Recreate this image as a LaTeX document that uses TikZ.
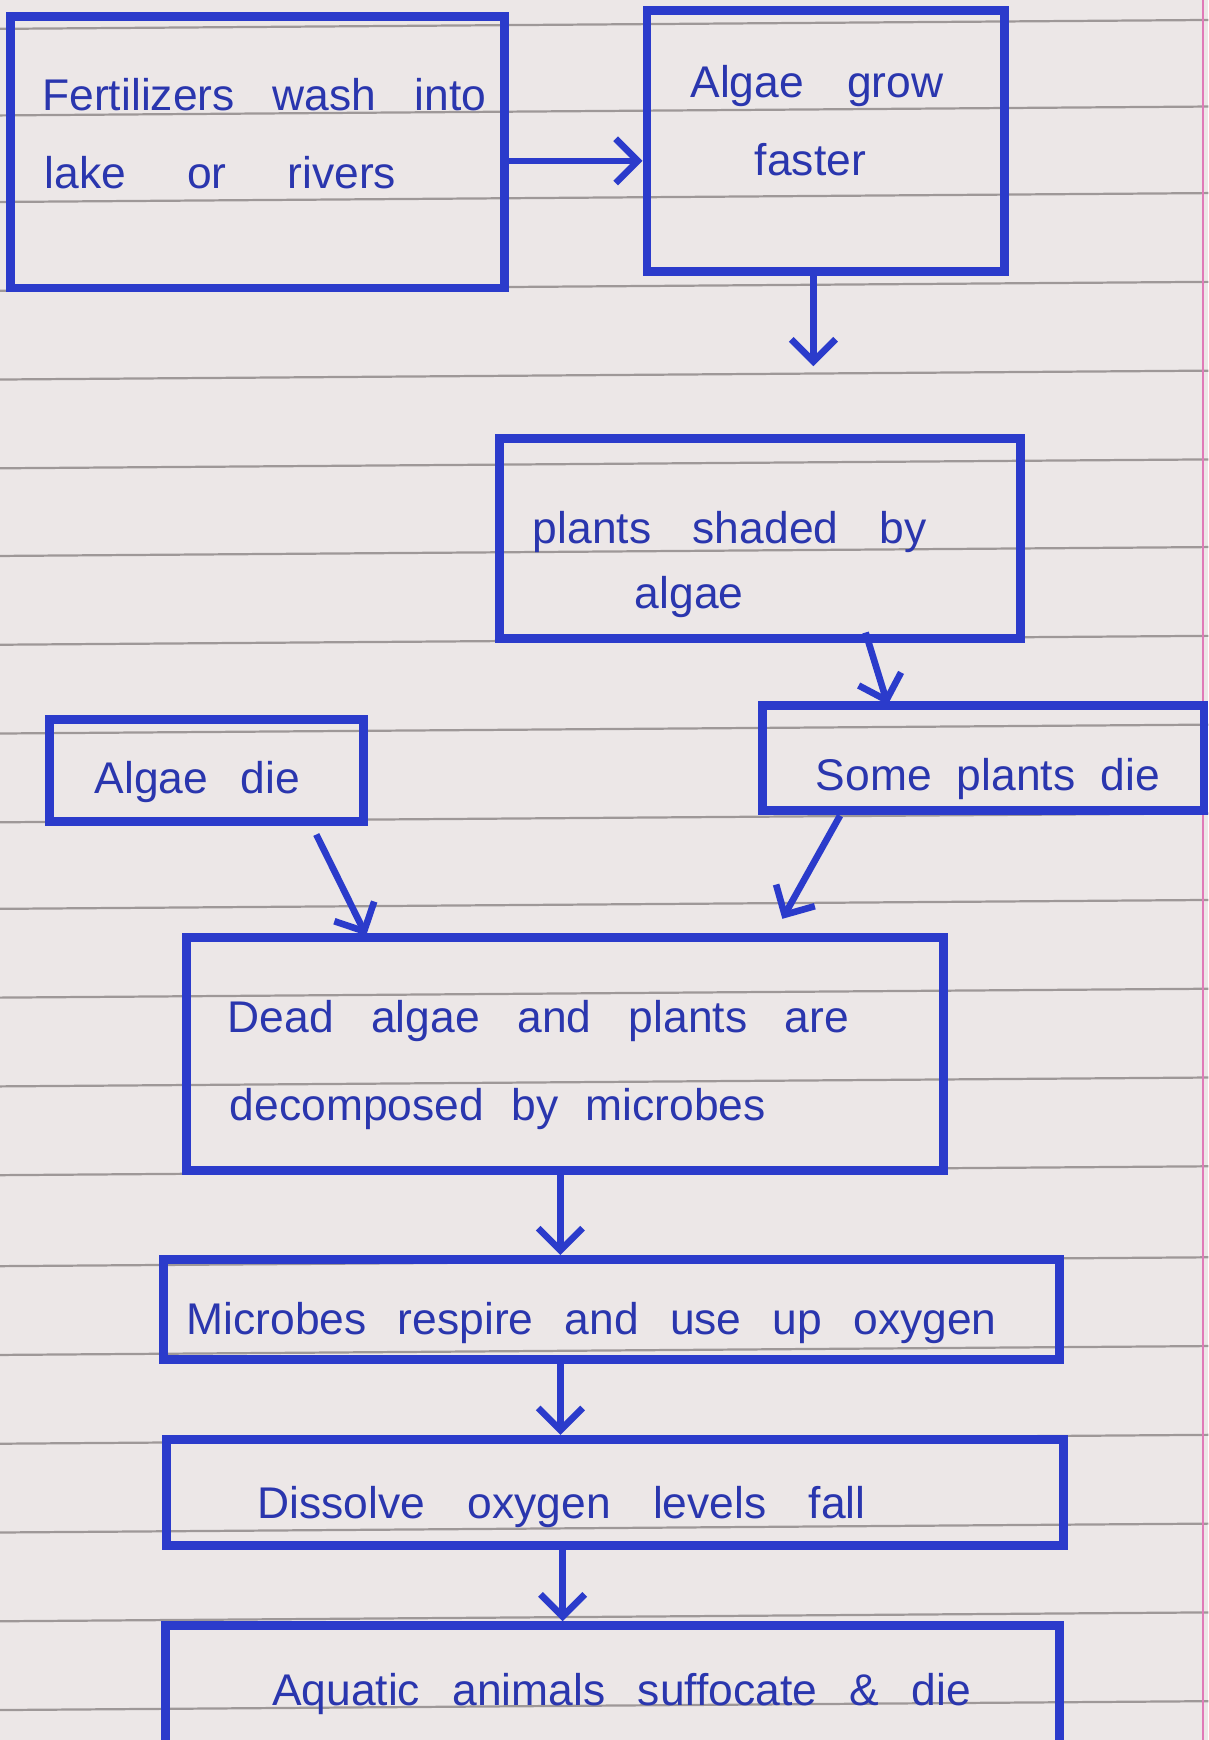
\documentclass[tikz,border=0pt]{standalone}
\usepackage{fontspec}
\setmainfont{Liberation Sans}
\usetikzlibrary{arrows.meta}
\definecolor{paper}{HTML}{ECE7E7}
\definecolor{ink}{HTML}{2B3BCB}
\definecolor{pen}{HTML}{2A36AE}
\definecolor{rulecol}{HTML}{9E9898}
\definecolor{margin}{HTML}{E07AB8}
\begin{document}
\begin{tikzpicture}[x=1pt,y=-1pt,
  box/.style={draw=ink,line width=8pt,inner sep=0pt},
  txt/.style={text=pen,font=\fontsize{40}{48}\selectfont,inner sep=0pt,anchor=base west},
  arr/.style={draw=ink,line width=6pt,-{Straight Barb[length=20pt,width=40pt,line width=6pt]}},
  paperline/.style={draw=rulecol,line width=2pt}]
% paper
\fill[paper] (0,0) rectangle (1089,1568);
\useasboundingbox (0,0) rectangle (1089,1568);
\foreach \y in {22,100,178,258,338,418,497,577,657,737,815,895,975,1055,1137,1217,1297,1377,1457,1537}
  \draw[paperline] (0,\y+4) -- (1089,\y-4);
\draw[margin,line width=2pt] (1084,0) -- (1084,1568);
% boxes
\node[box,minimum width=445pt,minimum height=245pt] (b1) at (232,137) {};
\node[box,minimum width=322pt,minimum height=235pt] (b2) at (744,127) {};
\node[box,minimum width=470pt,minimum height=180pt] (b3) at (685,485) {};
\node[box,minimum width=398pt,minimum height=95pt] (b4) at (886,683) {};
\node[box,minimum width=283pt,minimum height=92pt] (b5) at (186,694) {};
\node[box,minimum width=682pt,minimum height=210pt] (b6) at (509,950) {};
\node[box,minimum width=807pt,minimum height=90pt] (b7) at (551,1180) {};
\node[box,minimum width=808pt,minimum height=96pt] (b8) at (554,1345) {};
\node[box,minimum width=805pt,minimum height=110pt] (b9) at (552,1520) {};
% texts
\node[txt] (t1a) at (38,100) {\makebox[400pt][s]{Fertilizers wash into}};
\node[txt] (t1b) at (40,170) {lake\hspace{55pt}or\hspace{55pt}rivers};
\node[txt] (t2a) at (622,88) {\makebox[228pt][s]{Algae grow}};
\node[txt] (t2b) at (680,158) {faster};
\node[txt] (t3a) at (480,490) {\makebox[355pt][s]{plants shaded by}};
\node[txt] (t3b) at (572,548) {algae};
\node[txt] (t4) at (735,712) {\makebox[310pt][s]{Some plants die}};
\node[txt] (t5) at (85,715) {\makebox[185pt][s]{Algae die}};
\node[txt] (t6a) at (205,930) {\makebox[560pt][s]{Dead algae and plants are}};
\node[txt] (t6b) at (207,1010) {\makebox[483pt][s]{decomposed by microbes}};
\node[txt] (t7) at (168,1203) {\makebox[730pt][s]{Microbes respire and use up oxygen}};
\node[txt] (t8) at (232,1368) {\makebox[548pt][s]{Dissolve oxygen levels fall}};
\node[txt] (t9) at (245,1537) {\makebox[630pt][s]{Aquatic animals suffocate \& die}};
% connector endpoints
\coordinate (e2) at (733,330);
\coordinate (s3) at (780,570);
\coordinate (s5) at (285,752);
\coordinate (s4) at (757,735);
% arrows
\draw[arr] (b1.east |- 0,145) -- (b2.west |- 0,145);
\draw[arr] (b2.south -| e2) -- (e2);
\draw[arr] (s3) -- (800,635);
\draw[arr] (s5) -- (330,843);
\draw[arr] (s4) -- (705,828);
\draw[arr] (b6.south -| 505,0) -- (b7.north -| 505,0);
\draw[arr] (b7.south -| 505,0) -- (b8.north -| 505,0);
\draw[arr] (b8.south -| 507,0) -- (b9.north -| 507,0);
\end{tikzpicture}
\end{document}
